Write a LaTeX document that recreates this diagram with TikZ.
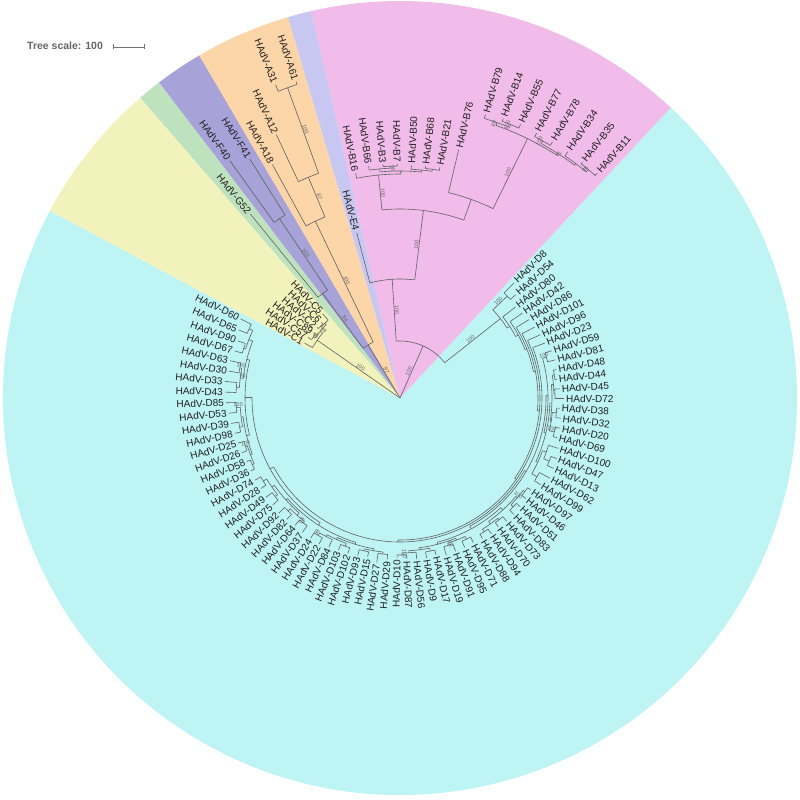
\documentclass[tikz,border=0pt]{standalone}
\usepackage{fontspec}
\setmainfont{Liberation Sans}
\definecolor{cyanbg}{RGB}{190,244,244}
\definecolor{pinkbg}{RGB}{241,187,234}
\definecolor{lavbg}{RGB}{199,199,241}
\definecolor{orgbg}{RGB}{252,213,168}
\definecolor{purbg}{RGB}{167,162,216}
\definecolor{grnbg}{RGB}{191,226,190}
\definecolor{ylwbg}{RGB}{242,242,189}
\newcounter{bsc}
\tikzset{
  br/.style={draw=black!62, line width=0.6pt},
  lbl/.style={inner sep=0pt, font=\fontsize{10}{11}\selectfont, text=black!88},
  bsl/.style={inner sep=0.6pt, font=\fontsize{5.5}{6}\selectfont, text=black!60},
  scl/.style={draw=black!55, line width=0.6pt}
}
\newcommand\TreeNode[4]{%
  \pgfmathsetmacro\myTa{48.7475+3.495*(#3)}%
  \pgfmathsetmacro\myTb{48.7475+3.495*(#4)}%
  \pgfmathsetmacro\myTm{(\myTa+\myTb)/2}%
  \draw[br] (\myTm:#1pt) -- (\myTm:#2pt);%
  \draw[br] (\myTa:#2pt) arc[start angle=\myTa, end angle=\myTb, radius=#2pt];}
\newcommand\TreeLeaf[4]{%
  \pgfmathsetmacro\myLa{48.7475+3.495*(#1)}%
  \pgfmathsetmacro\myLr{#3+2}%
  \draw[br] (\myLa:#2pt) -- (\myLa:#3pt);%
  \pgfmathtruncatemacro\myLs{cos(\myLa)>=0 ? 1 : 0}%
  \ifnum\myLs=1
    \node[lbl,anchor=west,rotate=\myLa] (n#4) at (\myLa:\myLr pt) {HAdV-#4};%
  \else
    \pgfmathsetmacro\myLb{\myLa-180}%
    \node[lbl,anchor=east,rotate=\myLb] (n#4) at (\myLa:\myLr pt) {HAdV-#4};%
  \fi}
\newcommand\Boot[3]{%
  \pgfmathsetmacro\myBa{48.7475+3.495*(#1)}%
  \pgfmathtruncatemacro\myBs{cos(\myBa)>=0 ? 1 : 0}%
  \ifnum\myBs=1 \pgfmathsetmacro\myBr{\myBa}\else\pgfmathsetmacro\myBr{\myBa+180}\fi
  \stepcounter{bsc}%
  \node[bsl,rotate=\myBr,anchor=south] (bs\arabic{bsc}) at (\myBa:#2pt) {#3};}
\newcommand\Sector[3]{%
  \fill[#3] (0,0) -- (#1:397pt) arc[start angle=#1, end angle=#2, radius=397pt] -- cycle;}
\begin{document}
\begin{tikzpicture}[x=1pt,y=1pt]
\useasboundingbox (-400,-402) rectangle (400,398);
% background sectors
\Sector{-208.15}{47.0}{cyanbg}
\Sector{47.0}{102.92}{pinkbg}
\Sector{102.92}{106.415}{lavbg}
\Sector{106.415}{120.395}{orgbg}
\Sector{120.395}{127.385}{purbg}
\Sector{127.385}{130.88}{grnbg}
\Sector{130.88}{151.85}{ylwbg}
% root children
\TreeNode{0}{57}{12.8828}{-2.983826}
\TreeNode{0}{62}{19.125}{22.25}
\TreeNode{0}{101}{26.125}{29}
% E + B
\TreeNode{57}{119}{16}{9.765625}
\TreeLeaf{16}{119}{171}{E4}
\TreeNode{119}{189}{13.375}{6.15625}
\TreeNode{189}{224}{15}{11.75}
\TreeLeaf{15}{224}{229}{B16}
\TreeNode{224}{227}{13.25}{10.25}
\TreeNode{227}{230}{14}{12.5}
\TreeLeaf{14}{230}{234}{B66}
\TreeNode{230}{232}{13}{12}
\TreeLeaf{13}{232}{234}{B3}
\TreeLeaf{12}{232}{234}{B7}
\TreeNode{227}{229}{11}{9.5}
\TreeLeaf{11}{229}{233}{B50}
\TreeNode{229}{231}{10}{9}
\TreeLeaf{10}{231}{233}{B68}
\TreeLeaf{9}{231}{234}{B21}
\TreeNode{189}{211}{8}{4.3125}
\TreeLeaf{8}{211}{255}{B76}
\TreeNode{211}{289}{6.25}{2.375}
\TreeNode{289}{292}{7}{5.5}
\TreeLeaf{7}{292}{296}{B79}
\TreeNode{292}{295}{6}{5}
\TreeLeaf{6}{295}{298}{B14}
\TreeLeaf{5}{295}{299}{B55}
\TreeNode{289}{291}{3.5}{1.25}
\TreeNode{291}{294}{4}{3}
\TreeLeaf{4}{294}{298}{B77}
\TreeLeaf{3}{294}{298}{B78}
\TreeNode{291}{293}{2}{0.5}
\TreeLeaf{2}{293}{298}{B34}
\TreeNode{293}{296}{1}{0}
\TreeLeaf{1}{296}{298}{B35}
\TreeLeaf{0}{296}{299}{B11}
% A, F, G
\TreeNode{62}{196}{20}{18.25}
\TreeLeaf{20}{196}{266}{A18}
\TreeNode{196}{239}{19}{17.5}
\TreeLeaf{19}{239}{291}{A12}
\TreeNode{239}{330}{18}{17}
\TreeLeaf{18}{330}{337}{A31}
\TreeLeaf{17}{330}{333}{A61}
\TreeNode{62}{130}{21.5}{23}
\TreeNode{130}{216}{22}{21}
\TreeLeaf{22}{216}{292}{F40}
\TreeLeaf{21}{216}{282}{F41}
\TreeLeaf{23}{130}{237}{G52}
% C
\TreeNode{101}{104}{24.75}{27.5}
\TreeNode{104}{106}{24}{25.5}
\TreeLeaf{24}{106}{114}{C5}
\TreeNode{106}{107}{25}{26}
\TreeLeaf{25}{107}{109}{C6}
\TreeLeaf{26}{107}{109}{C2}
\TreeNode{104}{106}{27}{28}
\TreeLeaf{27}{106}{108}{C89}
\TreeLeaf{28}{106}{110}{C57}
\TreeLeaf{29}{101}{110}{C1}
% D
\TreeNode{57}{128}{-1.5}{-4.467651}
\TreeNode{128}{148}{-1}{-2}
\TreeLeaf{-1}{148}{162}{D8}
\TreeLeaf{-2}{148}{155}{D54}
\TreeNode{128}{131}{-3}{-5.935303}
\TreeLeaf{-3}{131}{147}{D80}
\TreeNode{131}{134}{-4}{-7.870605}
\TreeLeaf{-4}{134}{149}{D42}
\TreeNode{134}{136}{-5}{-10.74121}
\TreeLeaf{-5}{136}{151}{D86}
\TreeNode{136}{138}{-6}{-15.48242}
\TreeLeaf{-6}{138}{152}{D101}
\TreeNode{138}{140}{-7}{-23.96484}
\TreeLeaf{-7}{140}{154}{D96}
\TreeNode{140}{142}{-8}{-39.9296875}
\TreeLeaf{-8}{142}{155}{D23}
\TreeNode{142}{144}{-22.59375}{-57.265625}
\TreeNode{144}{146}{-13.65625}{-31.53125}
\TreeNode{146}{148}{-9.5}{-17.8125}
\TreeNode{148}{152}{-9}{-10}
\TreeLeaf{-9}{152}{159}{D59}
\TreeLeaf{-10}{152}{160}{D81}
\TreeNode{148}{150}{-14.5}{-21.125}
\TreeNode{150}{152}{-12.5}{-16.5}
\TreeNode{152}{154}{-11.5}{-13.5}
\TreeNode{154}{156}{-11}{-12}
\TreeLeaf{-11}{156}{159}{D48}
\TreeLeaf{-12}{156}{158}{D44}
\TreeNode{154}{155}{-13}{-14}
\TreeLeaf{-13}{155}{160}{D45}
\TreeLeaf{-14}{155}{164}{D72}
\TreeNode{152}{153}{-15.5}{-17.5}
\TreeNode{153}{157}{-15}{-16}
\TreeLeaf{-15}{157}{160}{D38}
\TreeLeaf{-16}{157}{162}{D32}
\TreeNode{153}{158}{-17}{-18}
\TreeLeaf{-17}{158}{163}{D20}
\TreeLeaf{-18}{158}{162}{D69}
\TreeNode{150}{152}{-19.75}{-22.5}
\TreeNode{152}{156}{-19}{-20.5}
\TreeLeaf{-19}{156}{166}{D100}
\TreeNode{156}{162}{-20}{-21}
\TreeLeaf{-20}{162}{168}{D47}
\TreeLeaf{-21}{162}{169}{D13}
\TreeNode{152}{158}{-22}{-23}
\TreeLeaf{-22}{158}{170}{D62}
\TreeLeaf{-23}{158}{165}{D99}
\TreeNode{146}{149}{-27.5}{-35.5625}
\TreeNode{149}{152}{-25.5}{-29.5}
\TreeNode{152}{154}{-24.5}{-26.5}
\TreeNode{154}{156}{-24}{-25}
\TreeLeaf{-24}{156}{160}{D97}
\TreeLeaf{-25}{156}{161}{D46}
\TreeNode{154}{157}{-26}{-27}
\TreeLeaf{-26}{157}{162}{D51}
\TreeLeaf{-27}{157}{163}{D83}
\TreeNode{152}{155}{-28.5}{-30.5}
\TreeNode{155}{157}{-28}{-29}
\TreeLeaf{-28}{157}{163}{D73}
\TreeLeaf{-29}{157}{162}{D70}
\TreeNode{155}{158}{-30}{-31}
\TreeLeaf{-30}{158}{164}{D94}
\TreeLeaf{-31}{158}{163}{D88}
\TreeNode{149}{151}{-33.5}{-37.625}
\TreeNode{151}{153}{-32.5}{-34.5}
\TreeNode{153}{156}{-32}{-33}
\TreeLeaf{-32}{156}{162}{D71}
\TreeLeaf{-33}{156}{163}{D95}
\TreeNode{153}{155}{-34}{-35}
\TreeLeaf{-34}{155}{163}{D91}
\TreeLeaf{-35}{155}{164}{D19}
\TreeNode{151}{153}{-36.5}{-38.75}
\TreeNode{153}{156}{-36}{-37}
\TreeLeaf{-36}{156}{161}{D17}
\TreeLeaf{-37}{156}{162}{D9}
\TreeNode{153}{155}{-38}{-39.5}
\TreeLeaf{-38}{155}{162}{D56}
\TreeNode{155}{157}{-39}{-40}
\TreeLeaf{-39}{157}{161}{D87}
\TreeLeaf{-40}{157}{160}{D10}
\TreeNode{144}{148}{-49.03125}{-65.5}
\TreeNode{148}{151}{-44.5625}{-53.5}
\TreeNode{151}{153}{-42.5}{-46.625}
\TreeNode{153}{155}{-41.5}{-43.5}
\TreeNode{155}{157}{-41}{-42}
\TreeLeaf{-41}{157}{162}{D29}
\TreeLeaf{-42}{157}{166}{D27}
\TreeNode{155}{157}{-43}{-44}
\TreeLeaf{-43}{157}{162}{D15}
\TreeLeaf{-44}{157}{163}{D93}
\TreeNode{153}{155}{-45.5}{-47.75}
\TreeNode{155}{158}{-45}{-46}
\TreeLeaf{-45}{158}{164}{D102}
\TreeLeaf{-46}{158}{164}{D103}
\TreeNode{155}{157}{-47}{-48.5}
\TreeLeaf{-47}{157}{165}{D84}
\TreeNode{157}{160}{-48}{-49}
\TreeLeaf{-48}{160}{167}{D22}
\TreeLeaf{-49}{160}{166}{D24}
\TreeNode{151}{153}{-51.5}{-55.5}
\TreeNode{153}{156}{-50.5}{-52.5}
\TreeNode{156}{158}{-50}{-51}
\TreeLeaf{-50}{158}{166}{D37}
\TreeLeaf{-51}{158}{165}{D64}
\TreeNode{156}{159}{-52}{-53}
\TreeLeaf{-52}{159}{166}{D82}
\TreeLeaf{-53}{159}{167}{D92}
\TreeNode{153}{156}{-54.5}{-56.5}
\TreeNode{156}{159}{-54}{-55}
\TreeLeaf{-54}{159}{166}{D75}
\TreeLeaf{-55}{159}{167}{D49}
\TreeNode{156}{160}{-56}{-57}
\TreeLeaf{-56}{160}{166}{D28}
\TreeLeaf{-57}{160}{167}{D74}
\TreeNode{148}{155}{-61.5}{-69.5}
\TreeNode{155}{158}{-59.5}{-63.5}
\TreeNode{158}{160}{-58.5}{-60.5}
\TreeNode{160}{162}{-58}{-59}
\TreeLeaf{-58}{162}{166}{D36}
\TreeLeaf{-59}{162}{166}{D58}
\TreeNode{160}{162}{-60}{-61}
\TreeLeaf{-60}{162}{167}{D26}
\TreeLeaf{-61}{162}{168}{D25}
\TreeNode{158}{160}{-62.5}{-64.5}
\TreeNode{160}{163}{-62}{-63}
\TreeLeaf{-62}{163}{169}{D98}
\TreeLeaf{-63}{163}{171}{D39}
\TreeNode{160}{164}{-64}{-65}
\TreeLeaf{-64}{164}{172}{D53}
\TreeLeaf{-65}{164}{174}{D85}
\TreeNode{155}{158}{-67.5}{-71.5}
\TreeNode{158}{161}{-66.5}{-68.5}
\TreeNode{161}{164}{-66}{-67}
\TreeLeaf{-66}{164}{175}{D43}
\TreeLeaf{-67}{164}{176}{D33}
\TreeNode{161}{163}{-68}{-69}
\TreeLeaf{-68}{163}{173}{D30}
\TreeLeaf{-69}{163}{174}{D63}
\TreeNode{158}{162}{-70.5}{-72.5}
\TreeNode{162}{164}{-70}{-71}
\TreeLeaf{-70}{164}{172}{D67}
\TreeLeaf{-71}{164}{172}{D90}
\TreeNode{162}{166}{-72}{-73}
\TreeLeaf{-72}{166}{175}{D65}
\TreeLeaf{-73}{166}{178}{D60}
% bootstrap values
\Boot{4.95}{28}{100}
\Boot{12.88}{88}{100}
\Boot{9.77}{154}{100}
\Boot{13.375}{206}{100}
\Boot{4.31}{250}{100}
\Boot{12.5}{230}{98}
\Boot{6.25}{290}{89}
\Boot{5.5}{293}{100}
\Boot{3.5}{292}{100}
\Boot{2.2}{291}{71}
\Boot{0.5}{294}{98}
\Boot{-2.98}{92}{100}
\Boot{-1.5}{138}{100}
\Boot{20.69}{31}{97}
\Boot{19.125}{129}{100}
\Boot{18.25}{217}{87}
\Boot{17.5}{285}{100}
\Boot{22.25}{96}{84}
\Boot{21.5}{173}{100}
\Boot{27.56}{50}{100}
\Boot{26.125}{102}{98}
\Boot{27.5}{105}{78}
\Boot{-9.5}{150}{100}
\Boot{-17.5}{155}{100}
\Boot{-25.5}{153}{100}
\Boot{-34.5}{154}{63}
\Boot{-39.5}{156}{100}
\Boot{-48.5}{158}{98}
\Boot{-50.5}{157}{98}
\Boot{-60.5}{161}{100}
\Boot{-64.5}{162}{100}
\Boot{-68.5}{162}{100}
\Boot{-67.5}{159}{98}
% tree scale
\node[anchor=west, inner sep=0pt, font=\bfseries\fontsize{10.5}{12}\selectfont, text=black!60] (ts) at (-373,352) {Tree scale: 100};
\coordinate (sb1) at (-287,351);
\coordinate (sb2) at (-256,351);
\draw[scl] (sb1) -- (sb2);
\draw[scl] ([yshift=-2.5pt]sb1) -- ([yshift=2.5pt]sb1);
\draw[scl] ([yshift=-2.5pt]sb2) -- ([yshift=2.5pt]sb2);
\end{tikzpicture}
\end{document}
